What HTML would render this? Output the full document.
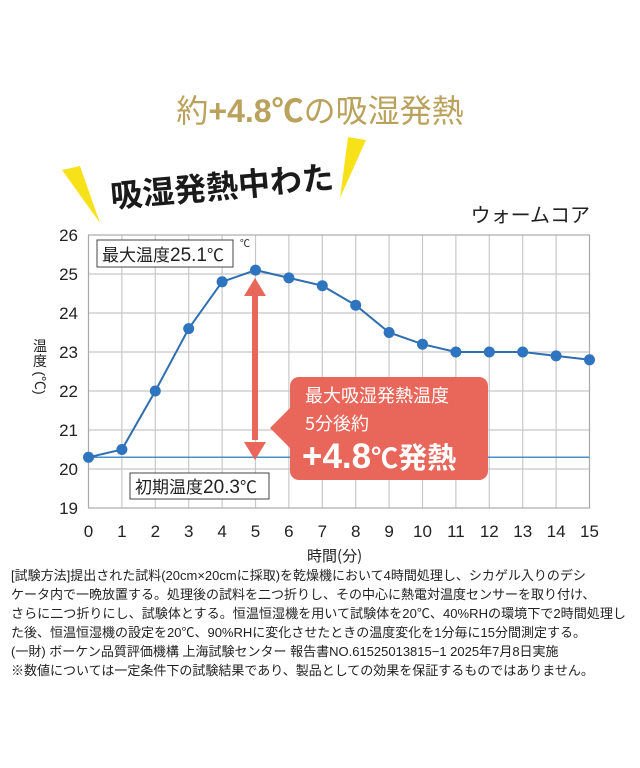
<!DOCTYPE html>
<html><head><meta charset="utf-8"><style>
body{margin:0;background:#fff;}
svg{display:block}
text{font-family:"Liberation Sans","Noto Sans CJK JP",sans-serif;}
.jp{font-family:"Noto Sans CJK JP",sans-serif;}
</style></head><body>
<svg width="640" height="768" viewBox="0 0 640 768" xmlns="http://www.w3.org/2000/svg">
<rect width="640" height="768" fill="#fff"/>
<text x="320" y="122" text-anchor="middle" font-size="32" fill="#baa25c" class="jp">約<tspan font-weight="bold" font-family="Liberation Sans">+4.8</tspan><tspan font-weight="bold">℃</tspan>の吸湿発熱</text>
<polygon points="62,170 80,166 100,223" fill="#f7e21a"/>
<polygon points="348,137 366,140 340,198" fill="#f7e21a"/>
<text x="222" y="198" text-anchor="middle" font-size="32" font-weight="bold" fill="#1a1a1a" class="jp" transform="rotate(-5 222 186)">吸湿発熱中わた</text>
<text x="590" y="222" text-anchor="end" font-size="20" fill="#222" class="jp">ウォームコア</text>
<g stroke="#c8c8c8" stroke-width="1.2">
<line x1="121.9" y1="235" x2="121.9" y2="508"/><line x1="155.3" y1="235" x2="155.3" y2="508"/><line x1="188.7" y1="235" x2="188.7" y2="508"/><line x1="222.1" y1="235" x2="222.1" y2="508"/><line x1="255.5" y1="235" x2="255.5" y2="508"/><line x1="288.9" y1="235" x2="288.9" y2="508"/><line x1="322.3" y1="235" x2="322.3" y2="508"/><line x1="355.7" y1="235" x2="355.7" y2="508"/><line x1="389.1" y1="235" x2="389.1" y2="508"/><line x1="422.5" y1="235" x2="422.5" y2="508"/><line x1="455.9" y1="235" x2="455.9" y2="508"/><line x1="489.3" y1="235" x2="489.3" y2="508"/><line x1="522.7" y1="235" x2="522.7" y2="508"/><line x1="556.1" y1="235" x2="556.1" y2="508"/>
<line x1="88.5" y1="274" x2="589.5" y2="274"/><line x1="88.5" y1="313" x2="589.5" y2="313"/><line x1="88.5" y1="352" x2="589.5" y2="352"/><line x1="88.5" y1="391" x2="589.5" y2="391"/><line x1="88.5" y1="430" x2="589.5" y2="430"/><line x1="88.5" y1="469" x2="589.5" y2="469"/>
</g>
<rect x="88.5" y="235" width="501" height="273" fill="none" stroke="#aaa" stroke-width="1.2"/>
<line x1="88.5" y1="457.3" x2="589.5" y2="457.3" stroke="#4a8fc6" stroke-width="1.5"/>
<g font-size="17" fill="#222" text-anchor="end">
<text x="78" y="241">26</text><text x="78" y="280">25</text><text x="78" y="319">24</text><text x="78" y="358">23</text><text x="78" y="397">22</text><text x="78" y="436">21</text><text x="78" y="475">20</text><text x="78" y="514">19</text>
</g>
<g font-size="17" fill="#222" text-anchor="middle">
<text x="88.5" y="537">0</text><text x="121.9" y="537">1</text><text x="155.3" y="537">2</text><text x="188.7" y="537">3</text><text x="222.1" y="537">4</text><text x="255.5" y="537">5</text><text x="288.9" y="537">6</text><text x="322.3" y="537">7</text><text x="355.7" y="537">8</text><text x="389.1" y="537">9</text><text x="422.5" y="537">10</text><text x="455.9" y="537">11</text><text x="489.3" y="537">12</text><text x="522.7" y="537">13</text><text x="556.1" y="537">14</text><text x="589.5" y="537">15</text>
</g>
<text x="307" y="561" font-size="15" fill="#222" class="jp">時間(分)</text>
<g font-size="14" fill="#222" class="jp" text-anchor="middle">
<text x="40" y="351">温</text><text x="40" y="366">度</text>
<text x="40" y="388" transform="rotate(90 40 383)">(℃)</text>
</g>
<polyline fill="none" stroke="#2f6fb0" stroke-width="2" points="88.5,457.3 121.9,449.5 155.3,391 188.7,328.6 222.1,281.8 255.5,270.1 288.9,277.9 322.3,285.7 355.7,305.2 389.1,332.5 422.5,344.2 455.9,352 489.3,352 522.7,352 556.1,355.9 589.5,359.8"/>
<g fill="#2f74bf">
<circle cx="88.5" cy="457.3" r="5.5"/><circle cx="121.9" cy="449.5" r="5.5"/><circle cx="155.3" cy="391" r="5.5"/><circle cx="188.7" cy="328.6" r="5.5"/><circle cx="222.1" cy="281.8" r="5.5"/><circle cx="255.5" cy="270.1" r="5.5"/><circle cx="288.9" cy="277.9" r="5.5"/><circle cx="322.3" cy="285.7" r="5.5"/><circle cx="355.7" cy="305.2" r="5.5"/><circle cx="389.1" cy="332.5" r="5.5"/><circle cx="422.5" cy="344.2" r="5.5"/><circle cx="455.9" cy="352" r="5.5"/><circle cx="489.3" cy="352" r="5.5"/><circle cx="522.7" cy="352" r="5.5"/><circle cx="556.1" cy="355.9" r="5.5"/><circle cx="589.5" cy="359.8" r="5.5"/>
</g>
<rect x="97" y="240" width="136" height="27" fill="#fff" stroke="#444" stroke-width="1"/>
<text x="102" y="261" font-size="17" fill="#222" class="jp">最大温度<tspan font-family="Liberation Sans" font-size="19">25.1</tspan>℃</text>
<text x="240" y="247" font-size="10" fill="#222" class="jp">℃</text>
<rect x="130" y="473" width="139" height="26" fill="#fff" stroke="#444" stroke-width="1"/>
<text x="135" y="493" font-size="17" fill="#222" class="jp">初期温度<tspan font-family="Liberation Sans" font-size="19">20.3</tspan>℃</text>
<g fill="#e8665a">
<rect x="252" y="290" width="6" height="150"/>
<polygon points="255,278 244,296 266,296"/>
<polygon points="255,460 244,442 266,442"/>
<rect x="290" y="377" width="198" height="103" rx="9"/>
<polygon points="270,428 292,406 292,450"/>
</g>
<text x="305" y="402" font-size="18" fill="#fff" class="jp">最大吸湿発熱温度</text>
<text x="305" y="430" font-size="18" fill="#fff" class="jp">5分後約</text>
<text x="302" y="468" font-size="35" font-weight="bold" fill="#fff" class="jp"><tspan font-family="Liberation Sans">+4.8</tspan><tspan font-size="27">℃</tspan><tspan font-size="29">発熱</tspan></text>
<g font-size="13" fill="#222" class="jp">
<text x="11" y="580">[試験方法]提出された試料(20cm×20cmに採取)を乾燥機において4時間処理し、シカゲル入りのデシ</text>
<text x="11" y="599">ケータ内で一晩放置する。処理後の試料を二つ折りし、その中心に熱電対温度センサーを取り付け、</text>
<text x="11" y="618" textLength="615" lengthAdjust="spacingAndGlyphs">さらに二つ折りにし、試験体とする。恒温恒湿機を用いて試験体を20℃、40%RHの環境下で2時間処理し</text>
<text x="11" y="637">た後、恒温恒湿機の設定を20℃、90%RHに変化させたときの温度変化を1分毎に15分間測定する。</text>
<text x="11" y="656">(一財) ボーケン品質評価機構 上海試験センター  報告書NO.61525013815−1  2025年7月8日実施</text>
<text x="11" y="675">※数値については一定条件下の試験結果であり、製品としての効果を保証するものではありません。</text>
</g>
</svg>
</body></html>
